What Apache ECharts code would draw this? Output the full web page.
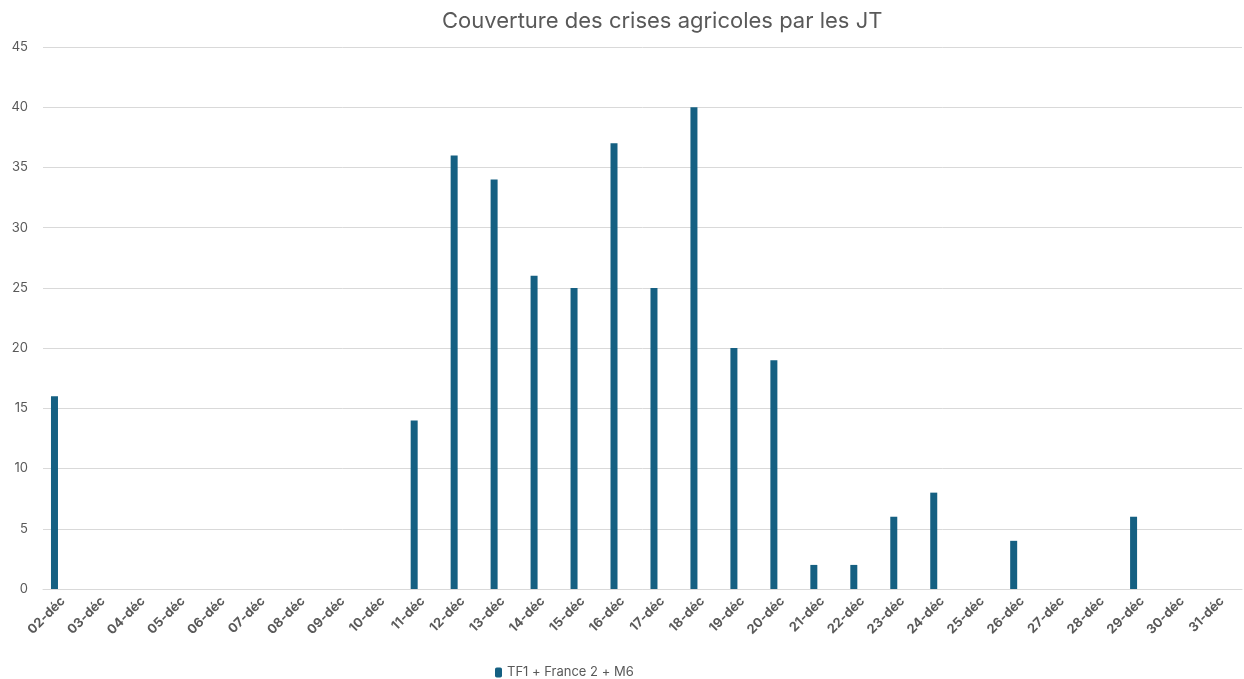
<!DOCTYPE html>
<html>
<head>
<meta charset="utf-8">
<script src="https://cdn.jsdelivr.net/npm/echarts@6/dist/echarts.min.js"></script>
<style>
  html, body { margin: 0; padding: 0; background: #fff; }
  #main { width: 1244px; height: 679px; }
</style>
</head>
<body>
<div id="main"></div>
<script>
var days = ['02-déc','03-déc','04-déc','05-déc','06-déc','07-déc','08-déc','09-déc','10-déc','11-déc',
            '12-déc','13-déc','14-déc','15-déc','16-déc','17-déc','18-déc','19-déc','20-déc','21-déc',
            '22-déc','23-déc','24-déc','25-déc','26-déc','27-déc','28-déc','29-déc','30-déc','31-déc'];
var sujets = [16, null, null, null, null, null, null, null, null, 14,
              36, 34, 26, 25, 37, 25, 40, 20, 19, 2,
              2, 6, 8, null, 4, null, null, 6, null, null];
var vide = days.map(function () { return null; });

var myChart = echarts.init(document.getElementById('main'));
myChart.setOption({
  animation: false,
  title: {
    text: 'Couverture des crises agricoles par les JT',
    left: 437,
    top: 5,
    textStyle: { fontFamily: 'Inter', fontSize: 22, fontWeight: 'normal', color: '#595959' }
  },
  legend: {
    data: ['TF1 + France 2 + M6'],
    left: 490,
    top: 661,
    itemWidth: 7,
    itemHeight: 10,
    itemGap: 4,
    textStyle: { fontFamily: 'Inter', fontSize: 13, color: '#595959' }
  },
  grid: { left: 43, right: 2, top: 47, bottom: 90 },
  xAxis: {
    type: 'category',
    data: days,
    axisLine: { lineStyle: { color: '#d9d9d9' } },
    axisTick: { show: false },
    axisLabel: {
      interval: 0,
      rotate: 45,
      margin: 10,
      fontFamily: 'Inter',
      fontSize: 13,
      fontWeight: 'bold',
      color: '#595959'
    }
  },
  yAxis: {
    type: 'value',
    min: 0,
    max: 45,
    interval: 5,
    axisLine: { show: false },
    axisTick: { show: false },
    axisLabel: { fontFamily: 'Inter', fontSize: 13, color: '#595959', margin: 15 },
    splitLine: { lineStyle: { color: '#d9d9d9' } }
  },
  series: [
    {
      name: 'TF1 + France 2 + M6',
      type: 'bar',
      data: sujets,
      barWidth: 7,
      barGap: '143%',
      itemStyle: { color: '#156082' }
    },
    {
      name: 'vide',
      type: 'bar',
      data: vide,
      barWidth: 7,
      itemStyle: { color: '#e97132' }
    }
  ]
});
</script>
</body>
</html>
